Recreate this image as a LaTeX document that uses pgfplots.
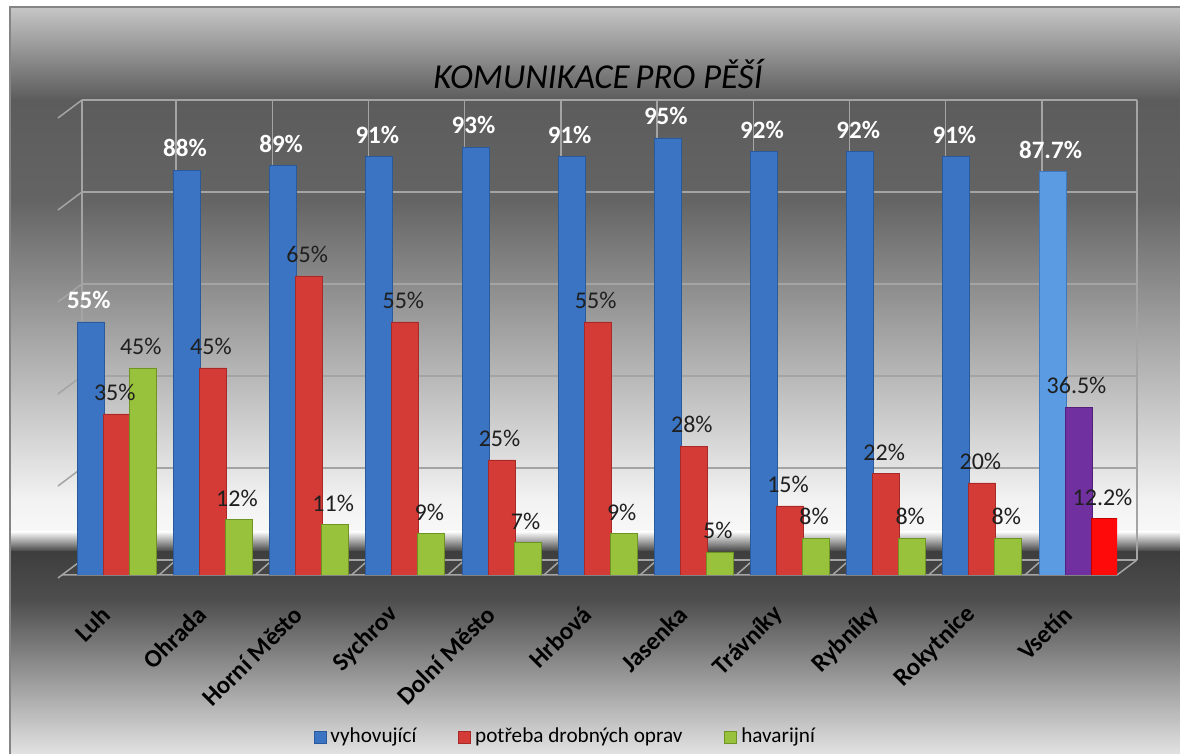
\documentclass[border=0pt]{standalone}
\usepackage{fontspec}
\setmainfont{Carlito}
\usepackage{pgfplots}
\pgfplotsset{compat=1.18}
\definecolor{gridc}{HTML}{A4A4A4}
\definecolor{cB}{HTML}{3A74C2}
\definecolor{cBd}{HTML}{2A5A9C}
\definecolor{cR}{HTML}{D43A36}
\definecolor{cRd}{HTML}{A82A28}
\definecolor{cG}{HTML}{98C23C}
\definecolor{cGd}{HTML}{6E9424}
\definecolor{cLB}{HTML}{5A9BE2}
\definecolor{cLBd}{HTML}{3E78BE}
\definecolor{cP}{HTML}{7030A0}
\definecolor{cPd}{HTML}{52207A}
\definecolor{cX}{HTML}{FF0A0A}
\definecolor{cXd}{HTML}{C00000}
\begin{document}
\begin{tikzpicture}
\begin{scope}[x=0.5pt,y=0.5pt]
% background (pixel coords: x, 754-y)
\fill[white] (0,0) rectangle (1180,754);
\shade[top color={rgb,255:red,198;green,198;blue,198}, bottom color={rgb,255:red,92;green,92;blue,92}] (10,654) rectangle (1180,747);
\shade[top color={rgb,255:red,92;green,92;blue,92}, bottom color={rgb,255:red,100;green,100;blue,100}] (10,554) rectangle (1180,654);
\shade[top color={rgb,255:red,100;green,100;blue,100}, bottom color={rgb,255:red,242;green,242;blue,242}] (10,254) rectangle (1180,554);
\shade[top color={rgb,255:red,242;green,242;blue,242}, bottom color={rgb,255:red,248;green,248;blue,248}] (10,222) rectangle (1180,254);
\shade[top color={rgb,255:red,248;green,248;blue,248}, bottom color={rgb,255:red,62;green,62;blue,62}] (10,202) rectangle (1180,222);
\shade[top color={rgb,255:red,62;green,62;blue,62}, bottom color={rgb,255:red,78;green,78;blue,78}] (10,154) rectangle (1180,202);
\shade[top color={rgb,255:red,78;green,78;blue,78}, bottom color={rgb,255:red,226;green,226;blue,226}] (10,0) rectangle (1180,154);
\draw[line width=1.2pt, color={rgb,255:red,133;green,133;blue,133}] (10,-5) -- (10,747) -- (1185,747);
% 3D back wall grid
\begin{scope}[gridc, line width=0.75pt]
\foreach \k in {0,...,5} {
  \draw (82,{754-560+92*\k}) -- (1137,{754-560+92*\k});
  \draw (58,{754-578+92*\k}) -- (82,{754-560+92*\k});
}
\draw (82,194) -- (82,654);
\draw (1137,194) -- (1137,654);
\foreach \j in {0,...,9} {
  \draw ({117+(\j+0.5)*96.2+11},194) -- ({117+(\j+0.5)*96.2+11},654);
  \draw ({117+(\j+0.5)*96.2-6},179) -- ({117+(\j+0.5)*96.2+11},194);
}
\draw (62,179) -- (1117,179) -- (1137,194);
\end{scope}
\node[font=\itshape\fontsize{17.5}{20}\selectfont] at (598,680) {KOMUNIKACE\,PRO PĚŠÍ};
\end{scope}
\begin{axis}[
  at={(31pt,89.5pt)}, anchor=south west, scale only axis,
  width=527.5pt, height=230pt,
  xmin=-0.57, xmax=10.4, ymin=0, ymax=100,
  ybar, bar width=13.5pt,
  axis line style={draw=none}, tick style={draw=none},
  ytick=\empty,
  xtick={0,...,10},
  xticklabels={Luh,Ohrada,Horní Město,Sychrov,Dolní Město,Hrbová,Jasenka,Trávníky,Rybníky,Rokytnice,Vsetín},
  xticklabel style={font=\bfseries\fontsize{12.5}{14}\selectfont, xshift=-3pt, yshift=-11pt, rotate=45, anchor=east},
  /pgf/number format/assume math mode=true,
  nodes near coords={\pgfmathprintnumber{\pgfplotspointmeta}\%},
  every node near coord/.append style={font=\fontsize{12}{14}\selectfont, yshift=3pt, xshift=-1pt},
  legend style={at={(0.478,-0.352)}, anchor=center, legend columns=-1, draw=none, fill=none,
    font=\fontsize{10.6}{13}\selectfont,
    /tikz/every even column/.append style={column sep=19pt}},
  legend image code/.code={\fill[#1] (0pt,-3pt) rectangle (6pt,3pt);},
]
\addplot[fill=cB, draw=cBd, line width=0.4pt, bar shift=-13pt,
  every node near coord/.append style={text=white, font=\bfseries\fontsize{12.5}{14}\selectfont}]
  coordinates {(0,55) (1,88) (2,89) (3,91) (4,93) (5,91) (6,95) (7,92) (8,92) (9,91)};
\addlegendentry{vyhovující}
\addplot[fill=cR, draw=cRd, line width=0.4pt, bar shift=0pt,
  every node near coord/.append style={text=black!88}]
  coordinates {(0,35) (1,45) (2,65) (3,55) (4,25) (5,55) (6,28) (7,15) (8,22) (9,20)};
\addlegendentry{potřeba drobných oprav}
\addplot[fill=cG, draw=cGd, line width=0.4pt, bar shift=13pt,
  every node near coord/.append style={text=black!88}]
  coordinates {(0,45) (1,12) (2,11) (3,9) (4,7) (5,9) (6,5) (7,8) (8,8) (9,8)};
\addlegendentry{havarijní}
\addplot[forget plot, fill=cLB, draw=cLBd, line width=0.4pt, bar shift=-13pt,
  every node near coord/.append style={text=white, font=\bfseries\fontsize{12.5}{14}\selectfont}]
  coordinates {(10,87.7)};
\addplot[forget plot, fill=cP, draw=cPd, line width=0.4pt, bar shift=0pt,
  every node near coord/.append style={text=black!88}]
  coordinates {(10,36.5)};
\addplot[forget plot, fill=cX, draw=cXd, line width=0.4pt, bar shift=13pt,
  every node near coord/.append style={text=black!88}]
  coordinates {(10,12.2)};
\end{axis}
\pgfresetboundingbox
\path[use as bounding box] (0,0) rectangle (590pt,377pt);
\end{tikzpicture}
\end{document}
